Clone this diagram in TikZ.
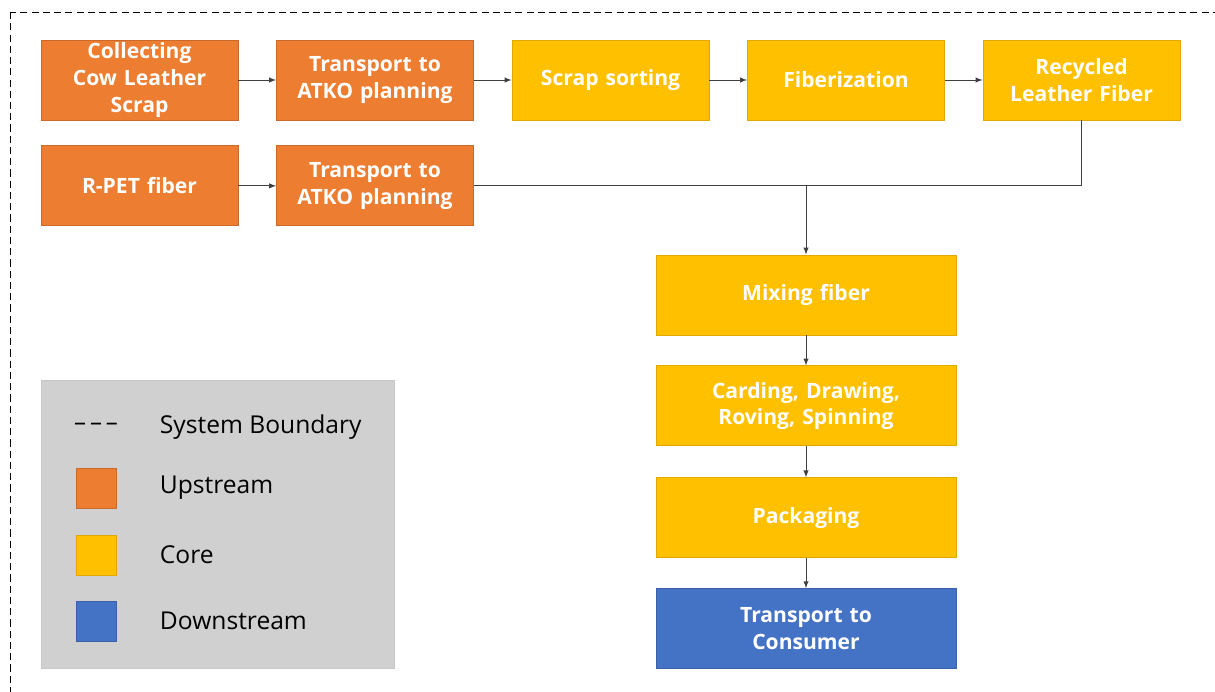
\documentclass[tikz,border=0pt]{standalone}
\usepackage{fontspec}
\setmainfont{Open Sans}
\usetikzlibrary{positioning, arrows}

\definecolor{upcol}{HTML}{ED7D31}
\definecolor{corecol}{HTML}{FFC000}
\definecolor{downcol}{HTML}{4472C4}
\definecolor{leggray}{HTML}{D0D0D0}
\definecolor{linecol}{HTML}{404040}

\tikzset{
  box/.style={draw, minimum width=4.925cm, minimum height=2cm, text width=4.4cm,
    inner ysep=1pt, align=center, text=white, line width=0.6pt,
    font=\bfseries\fontsize{15}{19}\selectfont},
  widebox/.style={box, minimum width=7.5cm, text width=7cm},
  upbox/.style={fill=upcol, draw=upcol!85!black},
  corebox/.style={fill=corecol, draw=corecol!88!black},
  downbox/.style={fill=downcol, draw=downcol!85!black},
  key/.style={draw, minimum size=1.0cm, line width=0.6pt},
  keytext/.style={anchor=west, font=\fontsize{17.5}{20}\selectfont},
  flow/.style={draw=linecol, line width=0.7pt}
}

\begin{document}
\begin{tikzpicture}[>=latex, x=0.025cm, y=-0.025cm, node distance=0.94cm]

\useasboundingbox (0,0) rectangle (1215,691);
\clip (0,0) rectangle (1215,691);
\draw[dash pattern=on 5pt off 3pt, line width=0.6pt] (10,12) rectangle (1240,720);

% upstream and leather fibre line
\node[box, upbox] (collect) at (139.5,80) {Collecting\\Cow Leather\\Scrap};
\node[box, upbox, right = of collect] (trans1) {Transport to\\ATKO planning};
\node[box, corebox, right = of trans1] (sorting) {Scrap sorting};
\node[box, corebox, right = of sorting] (fiberize) {Fiberization};
\node[box, corebox, right = of fiberize] (recycled) {Recycled\\Leather Fiber};

\node[box, upbox, below = 0.625cm of collect] (rpet) {R-PET fiber};
\node[box, upbox, right = of rpet] (trans2) {Transport to\\ATKO planning};

% core column
\node[box, widebox, corebox] (mixing) at (806,295) {Mixing fiber};
\node[box, widebox, corebox, below = 0.75cm of mixing] (carding) {Carding, Drawing,\\Roving, Spinning};
\node[box, widebox, corebox, below = 0.775cm of carding] (packaging) {Packaging};
\node[box, widebox, downbox, below = 0.75cm of packaging] (consumer) {Transport to\\Consumer};

\draw[->, flow] (collect) -- (trans1);
\draw[->, flow] (trans1) -- (sorting);
\draw[->, flow] (sorting) -- (fiberize);
\draw[->, flow] (fiberize) -- (recycled);
\draw[->, flow] (rpet) -- (trans2);

\coordinate (corner) at (recycled.south |- trans2.east);
\coordinate (split) at (mixing.north |- trans2.east);
\draw[flow] (recycled.south) -- (corner) -- (trans2.east);
\draw[->, flow] (split) -- (mixing.north);

\draw[->, flow] (mixing) -- (carding);
\draw[->, flow] (carding) -- (packaging);
\draw[->, flow] (packaging) -- (consumer);

% legend
\node[fill=leggray, draw=leggray!95!black, minimum width=8.825cm, minimum height=7.2cm] (legend) at (217.5,524) {};
\node[font=\fontsize{17}{20}\selectfont] (kbound) at (96,427) {\textendash\,\textendash\,\textendash};
\node[key, upbox] (kup) at (96,488) {};
\node[key, corebox] (kcore) at (96,555) {};
\node[key, downbox] (kdown) at (96,621) {};
\node[keytext] (tbound) at (155,427) {System Boundary};
\node[keytext] (tup) at (155,488) {Upstream};
\node[keytext] (tcore) at (155,555) {Core};
\node[keytext] (tdown) at (155,621) {Downstream};

\end{tikzpicture}
\end{document}
